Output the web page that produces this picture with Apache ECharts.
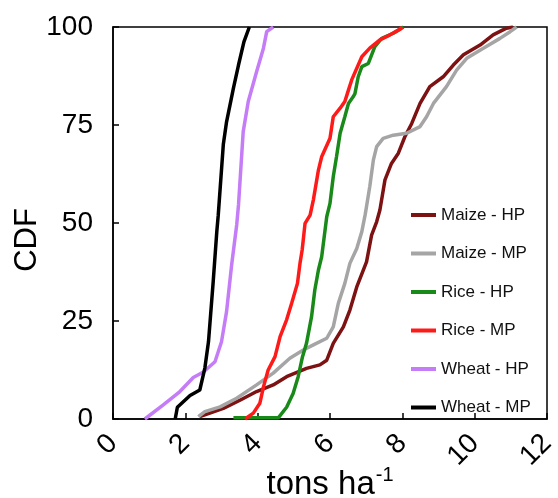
<!DOCTYPE html>
<html>
<head>
<meta charset="utf-8">
<script src="https://cdn.jsdelivr.net/npm/echarts@6/dist/echarts.min.js"></script>
<style>
html,body{margin:0;padding:0;background:#fff;}
#chart{width:558px;height:498px;}
</style>
</head>
<body>
<div id="chart"></div>
<script>
var seriesNames = ['Maize - HP','Maize - MP','Rice - HP','Rice - MP','Wheat - HP','Wheat - MP'];
var seriesColors = ['#7d1212','#a5a5a5','#198a19','#ff1a1a','#c57cf7','#000000'];
var xTicks = [0,2,4,6,8,10,12];
var yTicks = [0,25,50,75,100];

var maizeHP = [[2.4,0.6],[3.05,2.7],[3.51,4.8],[3.97,7],[4.43,8.7],[4.8,10.8],[5.35,12.9],[5.72,13.8],[5.91,15],[6.09,19.3],[6.37,23.5],[6.55,27.8],[6.74,33.7],[7.01,40.1],[7.15,46.9],[7.29,50.3],[7.38,53.3],[7.52,61],[7.7,65.2],[7.89,67.8],[8.07,72],[8.26,75.4],[8.49,80.5],[8.76,84.8],[9.13,87.3],[9.41,90.3],[9.69,92.9],[10.15,95.4],[10.51,98],[10.88,99.7],[11.06,100]];
var maizeMP = [[2.36,0.6],[2.54,1.9],[2.96,3.1],[3.42,5.3],[3.97,8.7],[4.43,11.7],[4.89,15.5],[5.26,17.6],[5.54,18.9],[5.91,20.6],[6.09,23.5],[6.23,29.5],[6.41,34.6],[6.55,39.7],[6.74,43.5],[6.88,47.8],[6.97,52],[7.01,54.2],[7.1,59.3],[7.2,66.1],[7.29,69.5],[7.47,71.6],[7.75,72.4],[8.12,72.9],[8.49,74.6],[8.67,77.1],[8.86,80.5],[9.22,84.8],[9.5,89],[9.78,92],[10.24,94.6],[10.7,97.1],[10.98,98.8],[11.16,100]];
var riceHP = [[3.33,0.3],[4.57,0.3],[4.8,3],[4.98,6.5],[5.12,10.8],[5.24,15.9],[5.35,19.3],[5.49,26.1],[5.58,32.9],[5.68,38],[5.77,41.4],[5.91,51.6],[6.0,55],[6.09,61.8],[6.18,66.9],[6.28,72.9],[6.41,77.1],[6.51,80.5],[6.64,82.2],[6.69,83],[6.78,87.3],[6.88,89.9],[7.06,90.7],[7.24,95],[7.43,97.1],[7.75,98.4],[8.03,100]];
var riceMP = [[3.65,0],[3.88,1.5],[4.06,4],[4.16,8.2],[4.29,12.5],[4.48,15.9],[4.62,21],[4.8,25.3],[4.94,29.5],[5.1,34.6],[5.17,39.7],[5.23,43.1],[5.31,49.9],[5.45,52],[5.54,55.9],[5.68,63.5],[5.77,66.9],[6.0,71.6],[6.09,77.1],[6.28,79.3],[6.41,81],[6.51,83.9],[6.6,86.5],[6.88,92.4],[7.1,94.6],[7.38,96.7],[7.66,98],[7.93,99.4],[8.0,100]];
var wheatHP = [[0.88,0],[1.39,3.6],[1.85,7],[2.22,10.6],[2.5,12],[2.82,14.6],[3.0,19.7],[3.14,27.4],[3.28,39.3],[3.42,49.5],[3.47,54.6],[3.6,73.3],[3.74,81],[3.97,88.6],[4.16,94.6],[4.25,98.8],[4.43,100]];
var wheatMP = [[1.72,0],[1.78,3],[2.13,6],[2.4,7.4],[2.54,13],[2.64,19.7],[2.77,35],[2.87,47.8],[2.91,52],[3.05,70],[3.14,75.8],[3.33,84.4],[3.47,90.3],[3.62,96.2],[3.77,100]];

var allData = [maizeHP, maizeMP, riceHP, riceMP, wheatHP, wheatMP];
var FONT = 'Liberation Sans, Arial, Helvetica, sans-serif';

var chart = echarts.init(document.getElementById('chart'));
var series = seriesNames.map(function(n, i){
  return {
    name: n, type: 'line', data: allData[i], showSymbol: false, symbol: 'none',
    lineStyle: {width: 3.5, color: seriesColors[i]}, itemStyle: {color: seriesColors[i]},
    animation: false, z: 3
  };
});
chart.setOption({
  animation: false,
  backgroundColor: '#fff',
  grid: {left: 113, right: 11, top: 27, bottom: 79, show: true, borderColor: '#000', borderWidth: 1.5,
         containLabel: false, outerBoundsMode: 'none'},
  legend: {
    orient: 'vertical', left: 406, top: 201, icon: 'rect', itemWidth: 25, itemHeight: 4,
    itemGap: 20.5, data: seriesNames,
    textStyle: {fontFamily: FONT, fontSize: 17, color: '#111', lineHeight: 18}
  },
  xAxis: {
    type: 'value', min: 0, max: 12, interval: 2,
    name: '{a|tons ha}{s|-1}', nameLocation: 'middle', nameGap: 46, nameMoveOverlap: false,
    nameTextStyle: {fontFamily: FONT, color: '#000', rich: {
      a: {fontSize: 33, fontFamily: FONT, color: '#000', verticalAlign: 'bottom', lineHeight: 36},
      s: {fontSize: 20, fontFamily: FONT, color: '#000', verticalAlign: 'top', lineHeight: 36, padding: [0,0,0,1]}
    }},
    axisLine: {show: true, lineStyle: {color: '#000', width: 1.5}},
    axisTick: {show: true, inside: true, length: 6, lineStyle: {color: '#000', width: 1.5}},
    splitLine: {show: false},
    axisLabel: {fontFamily: FONT, fontSize: 28, color: '#000', rotate: 45, margin: 20}
  },
  yAxis: {
    type: 'value', min: 0, max: 100, interval: 25,
    name: 'CDF', nameLocation: 'middle', nameGap: 70, nameRotate: 90, nameMoveOverlap: false,
    nameTextStyle: {fontFamily: FONT, fontSize: 31, color: '#000', padding: [0, 34, 0, 0]},
    axisLine: {show: true, lineStyle: {color: '#000', width: 1.5}},
    axisTick: {show: true, inside: true, length: 6, lineStyle: {color: '#000', width: 1.5}},
    splitLine: {show: false},
    axisLabel: {fontFamily: FONT, fontSize: 28, color: '#000', margin: 20}
  },
  series: series
});
</script>
</body>
</html>
